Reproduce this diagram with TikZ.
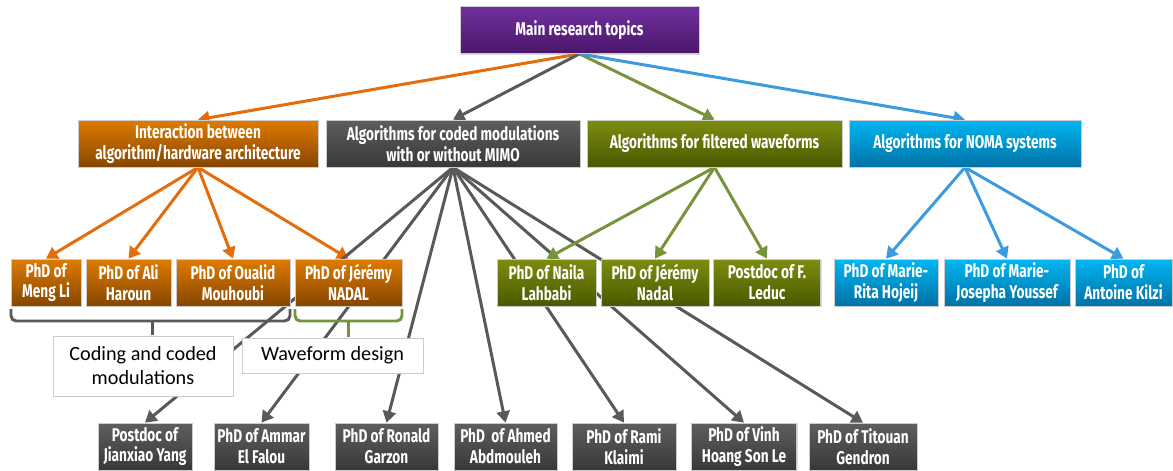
\documentclass[tikz,border=0pt]{standalone}
\usepackage{fontspec}
\newfontfamily\boxfont{Fira Sans}[FakeStretch=0.74]
\newfontfamily\notefont{Carlito}
\usetikzlibrary{arrows.meta,shadows}
\pgfdeclarelayer{back}
\pgfsetlayers{back,main}

\definecolor{purpleT}{HTML}{7030A0}
\definecolor{purpleB}{HTML}{4A1669}
\definecolor{orangeT}{HTML}{E07B00}
\definecolor{orangeB}{HTML}{854600}
\definecolor{grayT}{HTML}{5E5E5E}
\definecolor{grayB}{HTML}{383838}
\definecolor{greenT}{HTML}{7D8D10}
\definecolor{greenB}{HTML}{4A5800}
\definecolor{blueT}{HTML}{00B6F2}
\definecolor{blueB}{HTML}{0072A6}
\definecolor{orangeL}{HTML}{E46C0A}
\definecolor{grayL}{HTML}{595959}
\definecolor{greenL}{HTML}{77933C}
\definecolor{blueL}{HTML}{3C9ADF}

\begin{document}
\begin{tikzpicture}[x=0.02cm, y=-0.02cm,
    cardbox/.style={draw=black!20, line width=0.4pt, align=center, text=white, inner sep=1pt,
        font=\boxfont\bfseries\fontsize{10.5}{11.8}\selectfont, minimum height=0.94cm,
        drop shadow={shadow xshift=0.8pt, shadow yshift=-0.8pt, opacity=0.3}},
    wd/.style={minimum width=#1*0.02cm},
    purplebox/.style={cardbox, top color=purpleT, bottom color=purpleB},
    orangebox/.style={cardbox, top color=orangeT, bottom color=orangeB},
    graybox/.style={cardbox, top color=grayT, bottom color=grayB},
    greenbox/.style={cardbox, top color=greenT, bottom color=greenB},
    bluebox/.style={cardbox, top color=blueT, bottom color=blueB},
    labelbox/.style={draw=black!20, fill=white, align=center, inner sep=1pt,
        font=\notefont\fontsize{11.5}{13.6}\selectfont},
    link/.style={line width=1.7pt, -{Triangle[length=6.5pt,width=7.5pt]}},
    bracket/.style={line width=1.7pt, rounded corners=3pt}]
    \useasboundingbox (0,0) rectangle (1173,470);

    % top and topics
    \node[purplebox, wd=239] (main) at (579.5,30) {Main research topics};
    \node[orangebox, wd=240] (interact) at (198,143.5) {Interaction between\\algorithm/hardware architecture};
    \node[graybox, wd=254] (coded) at (453,143.5) {Algorithms for coded modulations\\with or without MIMO};
    \node[greenbox, wd=255] (filtered) at (714.5,143.5) {Algorithms for filtered waveforms};
    \node[bluebox, wd=232] (noma) at (965,143.5) {Algorithms for NOMA systems};

    % second row
    \node[orangebox, wd=70] (mengli) at (46,282.5) {PhD of\\Meng Li};
    \node[orangebox, wd=85] (haroun) at (128.5,282.5) {PhD of Ali\\Haroun};
    \node[orangebox, wd=114] (mouhoubi) at (233,282.5) {PhD of Oualid\\Mouhoubi};
    \node[orangebox, wd=107] (nadalA) at (348.5,282.5) {PhD of Jérémy\\NADAL};
    \node[greenbox, wd=99] (lahbabi) at (546.5,282.5) {PhD of Naila\\Lahbabi};
    \node[greenbox, wd=108] (nadalB) at (655,282.5) {PhD of Jérémy\\Nadal};
    \node[greenbox, wd=107] (leduc) at (767,282.5) {Postdoc of F.\\Leduc};
    \node[bluebox, wd=104] (hojeij) at (886,282.5) {PhD of Marie-\\Rita Hojeij};
    \node[bluebox, wd=126] (youssef) at (1007,282.5) {PhD of Marie-\\Josepha Youssef};
    \node[bluebox, wd=97] (kilzi) at (1123.5,282.5) {PhD of\\Antoine Kilzi};

    % bottom row
    \node[graybox, wd=94] (yang) at (145,446.5) {Postdoc of\\Jianxiao Yang};
    \node[graybox, wd=95] (elfalou) at (261.5,446.5) {PhD of Ammar\\El Falou};
    \node[graybox, wd=103] (garzon) at (386.5,446.5) {PhD of Ronald\\Garzon};
    \node[graybox, wd=103] (abdmouleh) at (505.5,446.5) {PhD\ \ of Ahmed\\Abdmouleh};
    \node[graybox, wd=104] (klaimi) at (624,446.5) {PhD of Rami\\Klaimi};
    \node[graybox, wd=105] (hoang) at (744,446.5) {PhD of Vinh\\Hoang Son Le};
    \node[graybox, wd=108] (gendron) at (863,446.5) {PhD of Titouan\\Gendron};

    % groups
    \node[labelbox, wd=180, minimum height=1.2cm] (coding) at (143,366) {Coding and coded\\modulations};
    \node[labelbox, wd=181, minimum height=0.7cm] (wavedesign) at (332.5,355.5) {Waveform design};
    \draw[bracket, grayL] (11,309) -- (11,321) -- (290,321) -- (290,309);
    \draw[bracket, grayL] (152.5,321) -- (152.5,335);
    \draw[bracket, greenL] (295,309) -- (295,321) -- (402,321) -- (402,309);
    \draw[bracket, greenL] (348.5,321) -- (348.5,337);

    \begin{pgfonlayer}{back}
        \draw[link, orangeL] (main.south) -- (interact.north);
        \draw[link, grayL] (main.south) -- (coded.north);
        \draw[link, greenL] (main.south) -- (filtered.north);
        \draw[link, blueL] (main.south) -- (noma.north);
        \foreach \kid in {mengli, haroun, mouhoubi, nadalA}
            \draw[link, orangeL] (interact.south) -- (\kid.north);
        \foreach \kid in {yang, elfalou, garzon, abdmouleh, klaimi, hoang, gendron}
            \draw[link, grayL] (coded.south) -- (\kid.north);
        \foreach \kid in {lahbabi, nadalB, leduc}
            \draw[link, greenL] (filtered.south) -- (\kid.north);
        \foreach \kid in {hojeij, youssef, kilzi}
            \draw[link, blueL] (noma.south) -- (\kid.north);
    \end{pgfonlayer}
\end{tikzpicture}
\end{document}
